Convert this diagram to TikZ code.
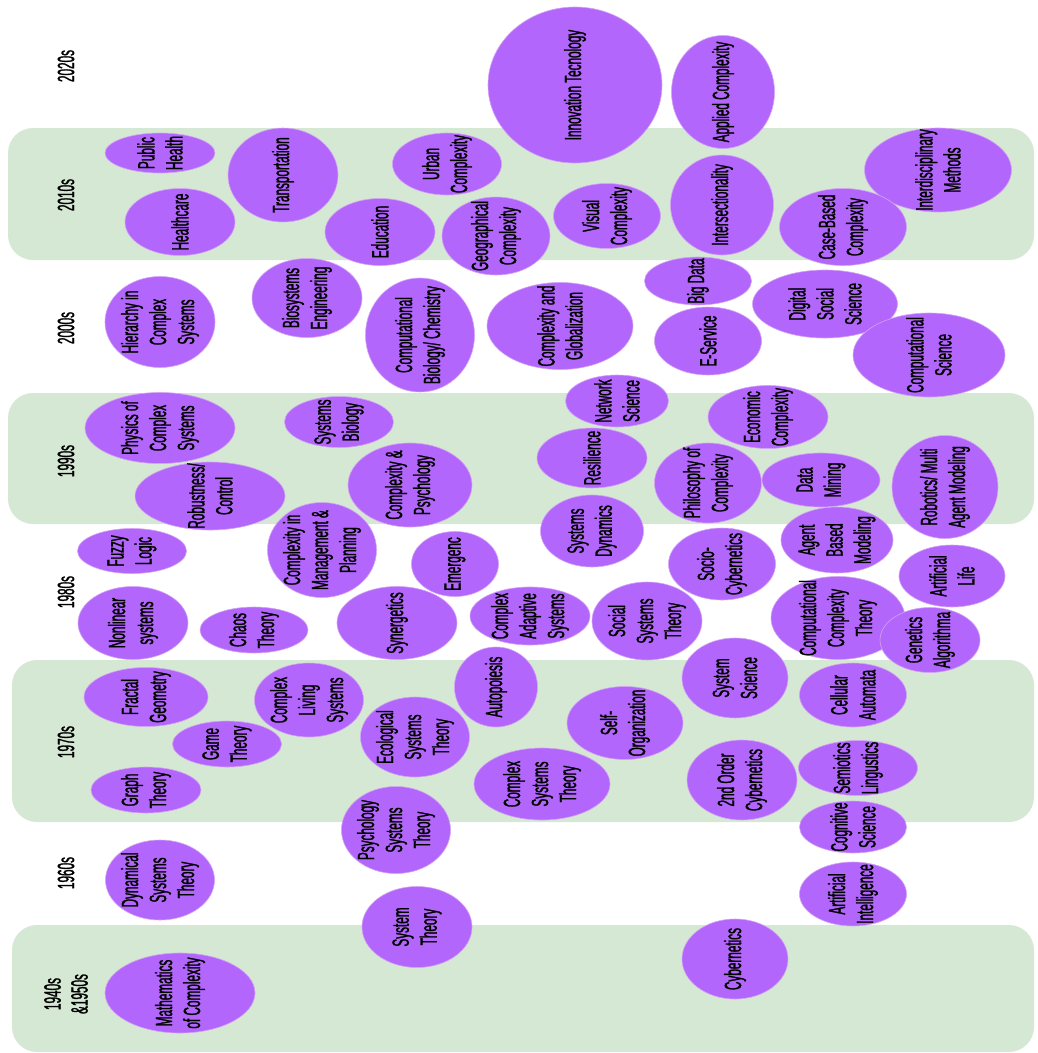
\documentclass[tikz,border=0pt]{standalone}
\usepackage{fontspec}
\setmainfont{Liberation Sans}[FakeStretch=0.5, FakeBold=1.2]
\usetikzlibrary{shapes.geometric}
\definecolor{TopicPurple}{HTML}{B266FC}
\definecolor{TopicEdge}{HTML}{D4A3F2}
\definecolor{BandGreen}{HTML}{D5E8D4}
\pgfdeclarelayer{bands}
\pgfdeclarelayer{bubbles}
\pgfsetlayers{bands,bubbles,main}
\tikzset{
  band/.style={fill=BandGreen, rounded corners=25pt},
  decade/.style={rotate=90, align=center, inner sep=0pt, font=\fontsize{23.5}{27}\selectfont},
  topic/.style={ellipse, fill=TopicPurple, draw=TopicEdge, line width=0.6pt, inner sep=0pt},
  topictext/.style={rotate=90, align=center, inner sep=0pt, font=\fontsize{23.5}{28}\selectfont}
}
\newcommand{\addtopic}[6]{%
  \begin{pgfonlayer}{bubbles}
    \node[topic, minimum width=#4, minimum height=#5] (#1) at (#2,#3) {};
  \end{pgfonlayer}
  \node[topictext] (#1-text) at (#1) {#6};
}

\begin{document}
\begin{tikzpicture}[x=1pt, y=-1pt]
\useasboundingbox (0,0) rectangle (1038,1053);

% decade bands
\begin{pgfonlayer}{bands}
\fill[band] (8,128) rectangle (1034,260);
\fill[band] (8,393) rectangle (1034,524);
\fill[band] (12,660) rectangle (1034,822);
\fill[band] (12,925) rectangle (1034,1052);
\end{pgfonlayer}

% decade labels
\node[decade] (d2020) at (66,66) {2020s};
\node[decade] (d2010) at (66,195) {2010s};
\node[decade] (d2000) at (66,328) {2000s};
\node[decade] (d1990) at (66,461) {1990s};
\node[decade] (d1980) at (66,592) {1980s};
\node[decade] (d1970) at (66,742) {1970s};
\node[decade] (d1960) at (66,873) {1960s};
\node[decade] (d1940) at (66,994) {1940s\\\&1950s};

% 2020s / 2010s
\addtopic{innovation}{575}{85}{174}{156}{Innovation Tecnology}
\addtopic{applied}{723}{92}{103}{113}{Applied Complexity}
\addtopic{interdisc}{938}{170}{147}{84}{Interdisciplinary\\Methods}
\addtopic{intersect}{722}{205}{103}{100}{Intersectionality}
\addtopic{casebased}{843}{227}{127}{77}{Case-Based\\Complexity}
\addtopic{visual}{607}{216}{107}{65}{Visual\\Complexity}
\addtopic{geographical}{496}{236}{108}{78}{Geographical\\Complexity}
\addtopic{urban}{447}{164}{109}{62}{Urban\\Complexity}
\addtopic{education}{380}{232}{110}{67}{Education}
\addtopic{transport}{283}{175}{110}{94}{Transportation}
\addtopic{pubhealth}{160}{153}{110}{40}{Public\\Health}
\addtopic{healthcare}{180}{222}{110}{67}{Healthcare}

% 2000s
\addtopic{hierarchy}{160}{322}{110}{91}{Hierarchy in\\Complex\\Systems}
\addtopic{biosystems}{307}{298}{110}{79}{Biosystems\\Engineering}
\addtopic{compbio}{420}{335}{109}{114}{Computational\\Biology/ Chemistry}
\addtopic{globalization}{560}{326}{146}{87}{Complexity and\\Globalization}
\addtopic{bigdata}{698}{281}{107}{48}{Big Data}
\addtopic{eservice}{708}{341}{107}{68}{E-Service}
\addtopic{digitalsocial}{825}{304}{145}{68}{Digital\\Social\\Science}
\addtopic{compscience}{929}{355}{152}{84}{Computational\\Science}

% 1990s
\addtopic{physics}{160}{428}{150}{71}{Physics of\\Complex\\Systems}
\addtopic{sysbio}{339}{422}{109}{51}{Systems\\Biology}
\addtopic{robustness}{210}{496}{150}{68}{Robustness/\\Control}
\addtopic{psychology}{410}{485}{124}{84}{Complexity \&\\Psychology}
\addtopic{network}{617}{401}{103}{52}{Network\\Science}
\addtopic{resilience}{592}{458}{110}{60}{Resilience}
\addtopic{economic}{768}{417}{120}{63}{Economic\\Complexity}
\addtopic{philosophy}{708}{483}{107}{80}{Philosophy of\\Complexity}
\addtopic{datamining}{821}{480}{118}{54}{Data\\Mining}
\addtopic{robotics}{945}{487}{106}{103}{Robotics/ Multi\\Agent Modeling}
\addtopic{sysdynamics}{592}{531}{103}{72}{Systems\\Dynamics}

% 1980s
\addtopic{fuzzy}{132}{551}{109}{45}{Fuzzy\\Logic}
\addtopic{management}{322}{550}{109}{95}{Complexity in\\Management \&\\Planning}
\addtopic{emergence}{455}{564}{87}{65}{Emergenc}
\addtopic{nonlinear}{133}{623}{110}{73}{Nonlinear\\systems}
\addtopic{chaos}{254}{630}{108}{46}{Chaos\\Theory}
\addtopic{synergetics}{397}{623}{120}{73}{Synergetics}
\addtopic{cas}{530}{616}{120}{58}{Complex\\Adaptive\\Systems}
\addtopic{socialsys}{647}{621}{110}{78}{Social\\Systems\\Theory}
\addtopic{sociocyb}{722}{564}{107}{72}{Socio-\\Cybernetics}
\addtopic{agentbased}{837}{540}{112}{66}{Agent\\Based\\Modeling}
\addtopic{artlife}{952}{576}{106}{62}{Artificial\\Life}
\addtopic{compcomplex}{838}{618}{134}{83}{Computational\\Complexity\\Theory}
\addtopic{genetics}{930}{640}{100}{65}{Genetics\\Algorithma}

% 1970s
\addtopic{sysscience}{735}{678}{106}{80}{System\\Science}
\addtopic{cellular}{853}{695}{107}{64}{Cellular\\Automata}
\addtopic{selforg}{625}{723}{116}{73}{Self-\\Organization}
\addtopic{autopoiesis}{496}{687}{83}{80}{Autopoiesis}
\addtopic{ecological}{415}{737}{109}{80}{Ecological\\Systems\\Theory}
\addtopic{complexsys}{542}{784}{136}{72}{Complex\\Systems\\Theory}
\addtopic{living}{309}{700}{109}{74}{Complex\\Living\\Systems}
\addtopic{fractal}{146}{697}{124}{59}{Fractal\\Geometry}
\addtopic{game}{227}{744}{109}{46}{Game\\Theory}
\addtopic{graph}{146}{790}{110}{46}{Graph\\Theory}
\addtopic{secondorder}{742}{780}{110}{80}{2nd Order\\Cybernetics}
\addtopic{semiotics}{858}{768}{119}{55}{Semiotics\\Lingustics}

% 1960s
\addtopic{psysystems}{396}{830}{109}{87}{Psychology\\Systems\\Theory}
\addtopic{cognitive}{853}{827}{107}{52}{Cognitive\\Science}
\addtopic{dynamical}{160}{880}{109}{80}{Dynamical\\Systems\\Theory}
\addtopic{systheory}{417}{927}{110}{81}{System\\Theory}
\addtopic{ai}{853}{894}{107}{64}{Artificial\\Intelligence}

% 1940s & 1950s
\addtopic{mathematics}{180}{993}{150}{80}{Mathematics\\of Complexity}
\addtopic{cybernetics}{735}{959}{106}{80}{Cybernetics}
\end{tikzpicture}
\end{document}
